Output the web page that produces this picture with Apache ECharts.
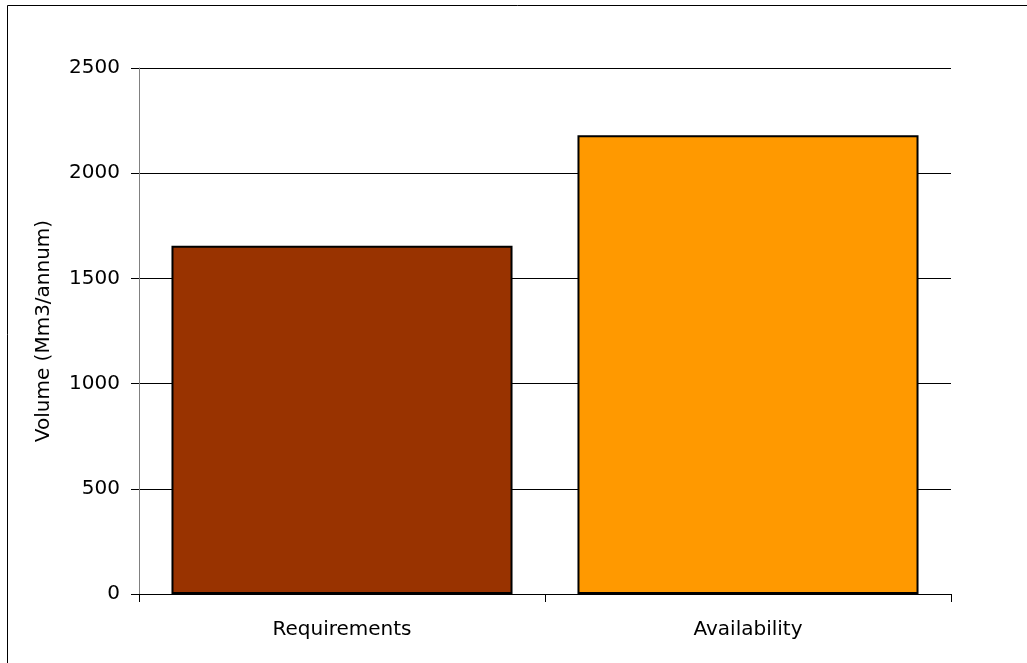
<!DOCTYPE html>
<html>
<head>
<meta charset="utf-8">
<script src="https://cdn.jsdelivr.net/npm/echarts@6/dist/echarts.min.js"></script>
<style>
  html, body { margin: 0; padding: 0; background: #fff; }
  #chart { width: 1027px; height: 663px; }
</style>
</head>
<body>
<div id="chart"></div>
<script>
// Water balance: requirements vs availability
const categories = ['Requirements', 'Availability'];
const volumes = [1655, 2180];
const barColors = ['#993300', '#FF9900'];
const yTicks = [0, 500, 1000, 1500, 2000, 2500];

const FONT = 'DejaVu Sans';
const FONT_SIZE = 20;

const chart = echarts.init(document.getElementById('chart'), null, { renderer: 'canvas' });

chart.setOption({
  backgroundColor: '#ffffff',
  animation: false,
  grid: { left: 139, right: 76, top: 68, bottom: 69, containLabel: false },
  graphic: [{
    type: 'rect',
    shape: { x: 7.5, y: 5.5, width: 1100, height: 700 },
    style: { fill: 'none', stroke: '#000', lineWidth: 1 },
    silent: true
  }],
  xAxis: {
    type: 'category',
    data: categories,
    axisLine: { lineStyle: { color: '#000', width: 1 } },
    axisTick: { show: true, length: 8, alignWithLabel: false, lineStyle: { color: '#000' } },
    axisLabel: { color: '#000', fontFamily: FONT, fontSize: FONT_SIZE, margin: 26 }
  },
  yAxis: {
    type: 'value',
    min: yTicks[0],
    max: yTicks[yTicks.length - 1],
    interval: 500,
    name: 'Volume (Mm3/annum)',
    nameLocation: 'middle',
    nameGap: 85,
    nameTextStyle: { color: '#000', fontFamily: FONT, fontSize: FONT_SIZE },
    axisLine: { show: true, lineStyle: { color: '#808080', width: 1 } },
    axisTick: { show: true, length: 8, inside: false, lineStyle: { color: '#000' } },
    axisLabel: {
      color: '#000', fontFamily: FONT, fontSize: FONT_SIZE, margin: 19,
      formatter: v => String(v)
    },
    splitLine: { show: true, lineStyle: { color: '#000', width: 1 } }
  },
  series: [{
    type: 'bar',
    data: volumes.map((v, i) => ({
      value: v,
      itemStyle: { color: barColors[i] }
    })),
    barCategoryGap: '16%',
    itemStyle: { borderColor: '#000', borderWidth: 2 }
  }]
});
</script>
</body>
</html>
